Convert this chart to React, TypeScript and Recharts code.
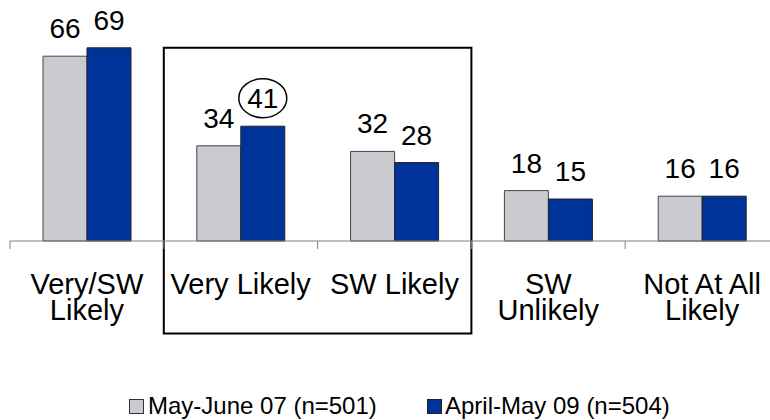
import React from "react";
import { BarChart, Bar, XAxis, YAxis, LabelList, Legend, ReferenceArea } from "recharts";

const categories = ["Very/SW Likely", "Very Likely", "SW Likely", "SW Unlikely", "Not At All Likely"];
const categoryLines = [["Very/SW", "Likely"], ["Very Likely"], ["SW Likely"], ["SW", "Unlikely"], ["Not At All", "Likely"]];
const mayJune07 = [66, 34, 32, 18, 16];
const aprilMay09 = [69, 41, 28, 15, 16];
const seriesNames = ["May-June 07 (n=501)", "April-May 09 (n=504)"];
const highlightedCategory = "Very Likely";
const boxFrom = "Very Likely";
const boxTo = "SW Likely";
const boxBottomValue = -33;
const boxTopValue = 69;

const data = categories.map((c, i) => ({ name: c, a: mayJune07[i], b: aprilMay09[i] }));

const CHART_W = 780;
const CHART_H = 420;
const MARGIN = { top: 17, right: 1, left: 10, bottom: 49 };
const BAND = (CHART_W - MARGIN.left - MARGIN.right) / categories.length;
const FONT = "'Liberation Sans', Arial, sans-serif";
const GRAY = "#CACBD0";
const BLUE = "#00339A";

const Tick = (props: any) => {
  const { x, y, payload } = props;
  const lines = categoryLines[categories.indexOf(payload.value)] || [payload.value];
  return (
    <g>
      <line x1={x - BAND / 2} x2={x - BAND / 2} y1={y} y2={y + 8} stroke="#808080" strokeWidth={1} />
      <text x={x} y={y + 53} textAnchor="middle" fontSize={29} fontFamily={FONT} fill="#000">
        {lines.map((l, i) => (
          <tspan key={i} x={x} dy={i === 0 ? 0 : 25.5}>{l}</tspan>
        ))}
      </text>
    </g>
  );
};

const makeLabel = (circled: boolean) => (props: any) => {
  const { x, y, width, value, index } = props;
  const cx = x + width / 2;
  const by = y - 18;
  const isHi = circled && categories[index] === highlightedCategory;
  return (
    <g>
      {isHi && <ellipse cx={cx} cy={by - 10} rx={24} ry={19.5} fill="none" stroke="#000" strokeWidth={1.5} />}
      <text x={cx} y={by} textAnchor="middle" fontSize={28} fontFamily={FONT} fill="#000">{value}</text>
    </g>
  );
};

const LegendContent = () => (
  <div style={{ position: "relative", height: 30, width: 770, fontFamily: FONT, fontSize: 24, color: "#000" }}>
    <div style={{ position: "absolute", left: 129, top: 4, display: "flex", alignItems: "center" }}>
      <span style={{ display: "inline-block", width: 13, height: 13, background: GRAY, border: "1px solid #333", marginRight: 4 }} />
      <span>{seriesNames[0]}</span>
    </div>
    <div style={{ position: "absolute", left: 427, top: 4, display: "flex", alignItems: "center" }}>
      <span style={{ display: "inline-block", width: 13, height: 13, background: BLUE, border: "1px solid #222", marginRight: 3 }} />
      <span>{seriesNames[1]}</span>
    </div>
  </div>
);

export default function App() {
  return (
    <div style={{ position: "absolute", left: 0, top: 0, width: 770, height: 420, overflow: "hidden", background: "#fff" }}>
      <BarChart width={CHART_W} height={CHART_H} data={data} margin={MARGIN} barGap={0} barSize={44}>
        <XAxis dataKey="name" height={100} tickSize={0} tickMargin={0} tickLine={false} axisLine={{ stroke: "#808080", strokeWidth: 1 }} tick={<Tick />} interval={0} />
        <YAxis hide domain={[0, 80]} />
        <Bar dataKey="a" fill={GRAY} stroke="#444" strokeWidth={1} isAnimationActive={false}>
          <LabelList dataKey="a" content={makeLabel(false)} />
        </Bar>
        <Bar dataKey="b" fill={BLUE} stroke="#222" strokeWidth={1} isAnimationActive={false}>
          <LabelList dataKey="b" content={makeLabel(true)} />
        </Bar>
        <ReferenceArea x1={boxFrom} x2={boxTo} y1={boxBottomValue} y2={boxTopValue} ifOverflow="visible" fill="none" fillOpacity={0} stroke="#000" strokeWidth={2} />
        <Legend verticalAlign="bottom" content={<LegendContent />} wrapperStyle={{ left: 0, top: 388, bottom: "auto", width: 770 }} />
      </BarChart>
    </div>
  );
}
